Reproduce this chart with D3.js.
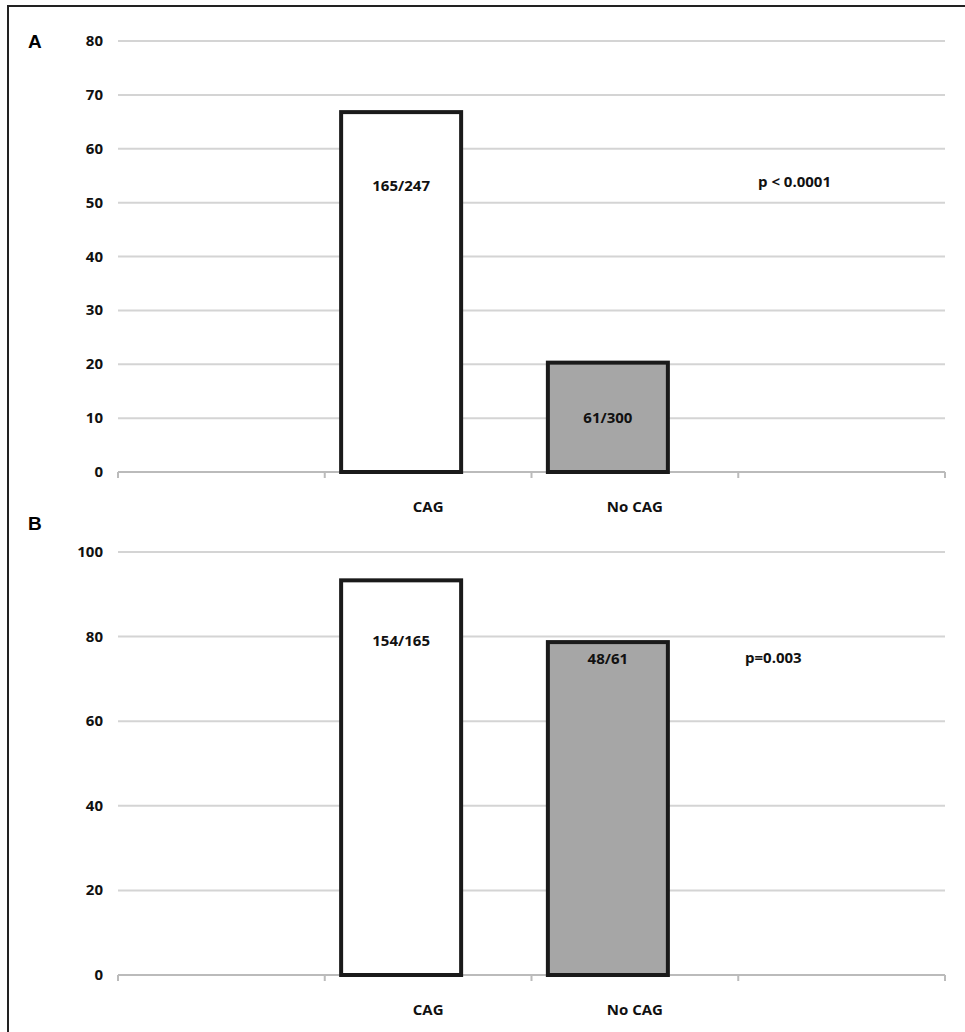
<!DOCTYPE html>
<html><head><meta charset="utf-8">
<script src="https://cdn.jsdelivr.net/npm/d3@7"></script>
<style>body{margin:0;background:#fff}</style></head>
<body><svg id="c" width="965" height="1032"></svg>
<script>
const categories = ["CAG", "No CAG"];
const valuesA = [66.8, 20.3];
const labelsA = ["165/247", "61/300"];
const valuesB = [93.3, 78.7];
const labelsB = ["154/165", "48/61"];
const ticksA = [0, 10, 20, 30, 40, 50, 60, 70, 80];
const ticksB = [0, 20, 40, 60, 80, 100];
const fills = ["#ffffff", "#a6a6a6"];

const svg = d3.select("#c");
svg.append("rect").attr("x", 8).attr("y", 6).attr("width", 975).attr("height", 1040)
  .attr("fill", "none").attr("stroke", "#222").attr("stroke-width", 2);

const font = "'Open Sans', 'DejaVu Sans', sans-serif";

function panel(letter, letterY, vals, labels, labelDy, ticks, yMax, top, bottom, pText, pX, pY, barW) {
  const x0 = 118, x1 = 945;
  const band = d3.scaleBand().domain(["", ...categories, " "]).range([x0, x1]);
  const y = d3.scaleLinear().domain([0, yMax]).range([bottom, top]);
  const barX = c => band(c) + band.bandwidth() / 2 - 27;
  const g = svg.append("g");
  g.append("text").attr("x", 28).attr("y", letterY).text(letter)
    .attr("font-family", "Arial, sans-serif").attr("font-weight", "bold").attr("font-size", 19);
  g.selectAll("line.grid").data(ticks).join("line")
    .attr("x1", x0).attr("x2", x1).attr("y1", d => y(d)).attr("y2", d => y(d))
    .attr("stroke", d => d === 0 ? "#bbb" : "#d4d4d4").attr("stroke-width", 2);
  g.selectAll("text.tk").data(ticks).join("text")
    .attr("x", 103).attr("y", d => y(d) + 5).attr("text-anchor", "end")
    .attr("font-family", font).attr("font-weight", "bold").attr("font-size", 15).attr("fill", "#111")
    .text(d => d);
  g.selectAll("line.xt").data(band.domain().concat(["end"])).join("line")
    .attr("x1", (d, i) => x0 + i * band.bandwidth()).attr("x2", (d, i) => x0 + i * band.bandwidth())
    .attr("y1", bottom).attr("y2", bottom + 6).attr("stroke", "#bbb").attr("stroke-width", 2);
  g.selectAll("rect.bar").data(vals).join("rect")
    .attr("x", (d, i) => barX(categories[i]) - barW / 2)
    .attr("y", d => y(d)).attr("width", barW).attr("height", d => bottom - y(d))
    .attr("fill", (d, i) => fills[i]).attr("stroke", "#1a1a1a").attr("stroke-width", 4);
  g.selectAll("text.lab").data(labels).join("text")
    .attr("x", (d, i) => barX(categories[i]))
    .attr("y", (d, i) => y(vals[i]) + labelDy[i])
    .attr("text-anchor", "middle").attr("font-family", font).attr("font-weight", "bold")
    .attr("font-size", 15).attr("fill", "#111").text(d => d);
  g.selectAll("text.cat").data(categories).join("text")
    .attr("x", d => band(d) + band.bandwidth() / 2).attr("y", bottom + 40)
    .attr("text-anchor", "middle").attr("font-family", font).attr("font-weight", "bold")
    .attr("font-size", 15).attr("fill", "#111").text(d => d);
  g.append("text").attr("x", pX).attr("y", pY).text(pText)
    .attr("font-family", font).attr("font-weight", "bold").attr("font-size", 15).attr("fill", "#111");
}

panel("A", 48, valuesA, labelsA, [79, 60], ticksA, 80, 41, 472, "p < 0.0001", 758, 187, 120);
panel("B", 530, valuesB, labelsB, [66, 22], ticksB, 100, 552, 975, "p=0.003", 745, 663, 120);
</script></body></html>
